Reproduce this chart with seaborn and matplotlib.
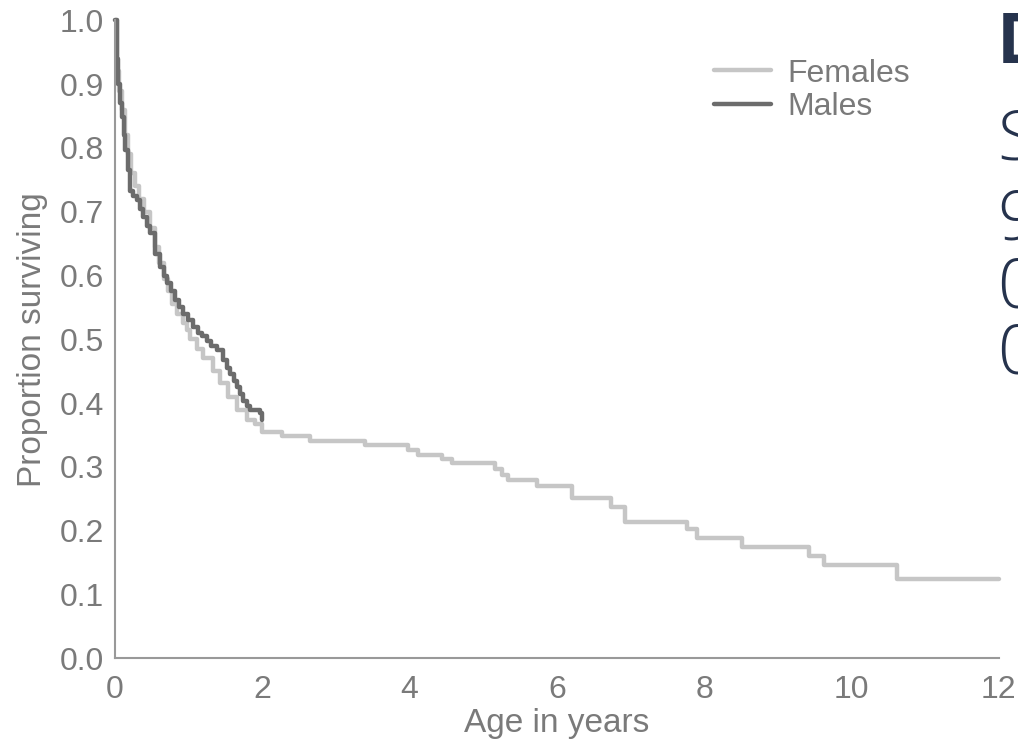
# Survival curves, females vs males

import pandas as pd
import matplotlib
matplotlib.use("Agg")
import matplotlib.pyplot as plt
import seaborn as sns

# Data

female_age = [0, 0.03, 0.06, 0.1, 0.14, 0.18, 0.22, 0.27, 0.33, 0.4, 0.47, 0.54,
              0.6, 0.66, 0.72, 0.78, 0.84, 0.92, 0.98, 1.02, 1.11, 1.19, 1.33,
              1.42, 1.53, 1.66, 1.79, 1.9,
              1.99, 2.27, 2.65, 3.39, 3.98, 4.11, 4.44, 4.57, 5.16, 5.26,
              5.33, 5.73, 6.20, 6.74, 6.92, 7.77, 7.90, 8.52, 9.43, 9.63, 10.62, 12.0]
female_surv = [1.0, 0.92, 0.89, 0.86, 0.82, 0.79, 0.76, 0.74, 0.72, 0.70, 0.675, 0.645,
               0.62, 0.595, 0.575, 0.555, 0.54, 0.525, 0.515, 0.5, 0.485, 0.47, 0.451,
               0.431, 0.409, 0.389, 0.373, 0.368,
               0.354, 0.348, 0.34, 0.334, 0.326, 0.318, 0.312, 0.306, 0.296, 0.287,
               0.279, 0.270, 0.251, 0.237, 0.213, 0.202, 0.188, 0.174, 0.161, 0.146, 0.125, 0.125]

male_age = [0, 0.02, 0.04, 0.07, 0.1, 0.12, 0.14, 0.17, 0.2, 0.25, 0.3, 0.34, 0.38,
            0.43, 0.47, 0.54, 0.61, 0.66, 0.71, 0.76, 0.81, 0.87, 0.92, 0.99, 1.06,
            1.12, 1.18, 1.25, 1.31, 1.38, 1.47, 1.52, 1.56, 1.61, 1.66, 1.70, 1.74,
            1.79, 1.83, 1.97, 1.99]
male_surv = [1.0, 0.94, 0.90, 0.87, 0.848, 0.82, 0.796, 0.765, 0.733, 0.725, 0.718,
             0.705, 0.691, 0.678, 0.666, 0.634, 0.613, 0.6, 0.588, 0.575, 0.561, 0.55,
             0.54, 0.53, 0.519, 0.51, 0.505, 0.498, 0.49, 0.483, 0.467, 0.455, 0.446,
             0.435, 0.425, 0.415, 0.404, 0.395, 0.389, 0.384, 0.373]

x_ticks = [0, 2, 4, 6, 8, 10, 12]
y_ticks = [0.0, 0.1, 0.2, 0.3, 0.4, 0.5, 0.6, 0.7, 0.8, 0.9, 1.0]

side_text = ["D", "S", "9", "0", "0"]

df = pd.concat([
    pd.DataFrame({"age": female_age, "surv": female_surv, "sex": "Females"}),
    pd.DataFrame({"age": male_age, "surv": male_surv, "sex": "Males"}),
], ignore_index=True)

# Plot

sns.set_style("white")
plt.rcParams["font.family"] = ["Liberation Sans", "DejaVu Sans"]

grey = "#7a7a7a"
fig = plt.figure(figsize=(10.18, 7.54), dpi=100)
ax = fig.add_axes([0.113, 0.127, 0.868, 0.846])

sns.lineplot(data=df, x="age", y="surv", hue="sex", hue_order=["Females", "Males"],
             palette={"Females": "#c6c6c6", "Males": "#6c6c6c"},
             estimator=None, sort=False, drawstyle="steps-post", lw=3.2,
             ax=ax, clip_on=False)

ax.set_xlim(0, 12)
ax.set_ylim(0, 1)
ax.set_xticks(x_ticks)
ax.set_yticks(y_ticks)
ax.set_yticklabels([f"{v:.1f}" for v in y_ticks])
ax.tick_params(direction="in", length=5, width=1.2, colors="#999999",
               labelcolor=grey, labelsize=23, pad=8)
ax.tick_params(axis="x", pad=12)
for s in ["top", "right"]:
    ax.spines[s].set_visible(False)
for s in ["left", "bottom"]:
    ax.spines[s].set_color("#999999")
    ax.spines[s].set_linewidth(1.5)

ax.set_xlabel("Age in years", fontsize=24, color=grey, labelpad=2)
ax.set_ylabel("Proportion surviving", fontsize=24, color=grey, labelpad=8)

h, l = ax.get_legend_handles_labels()
ax.legend(h, l, loc="upper left", bbox_to_anchor=(0.645, 0.985), frameon=False,
          fontsize=23, labelcolor=grey, handlelength=1.8, handletextpad=0.5,
          labelspacing=0.1)

# cut-off slide text on the right edge
baselines = [63, 160, 240, 307, 373]
for i, (t, yb) in enumerate(zip(side_text, baselines)):
    fig.text(997 / 1018, 1 - yb / 754, t, fontsize=50, color="#26334d",
             family=["Open Sans", "DejaVu Sans"],
             weight="bold" if i == 0 else "light", va="baseline", ha="left")

fig.savefig("out.png", dpi=100, facecolor="white")
